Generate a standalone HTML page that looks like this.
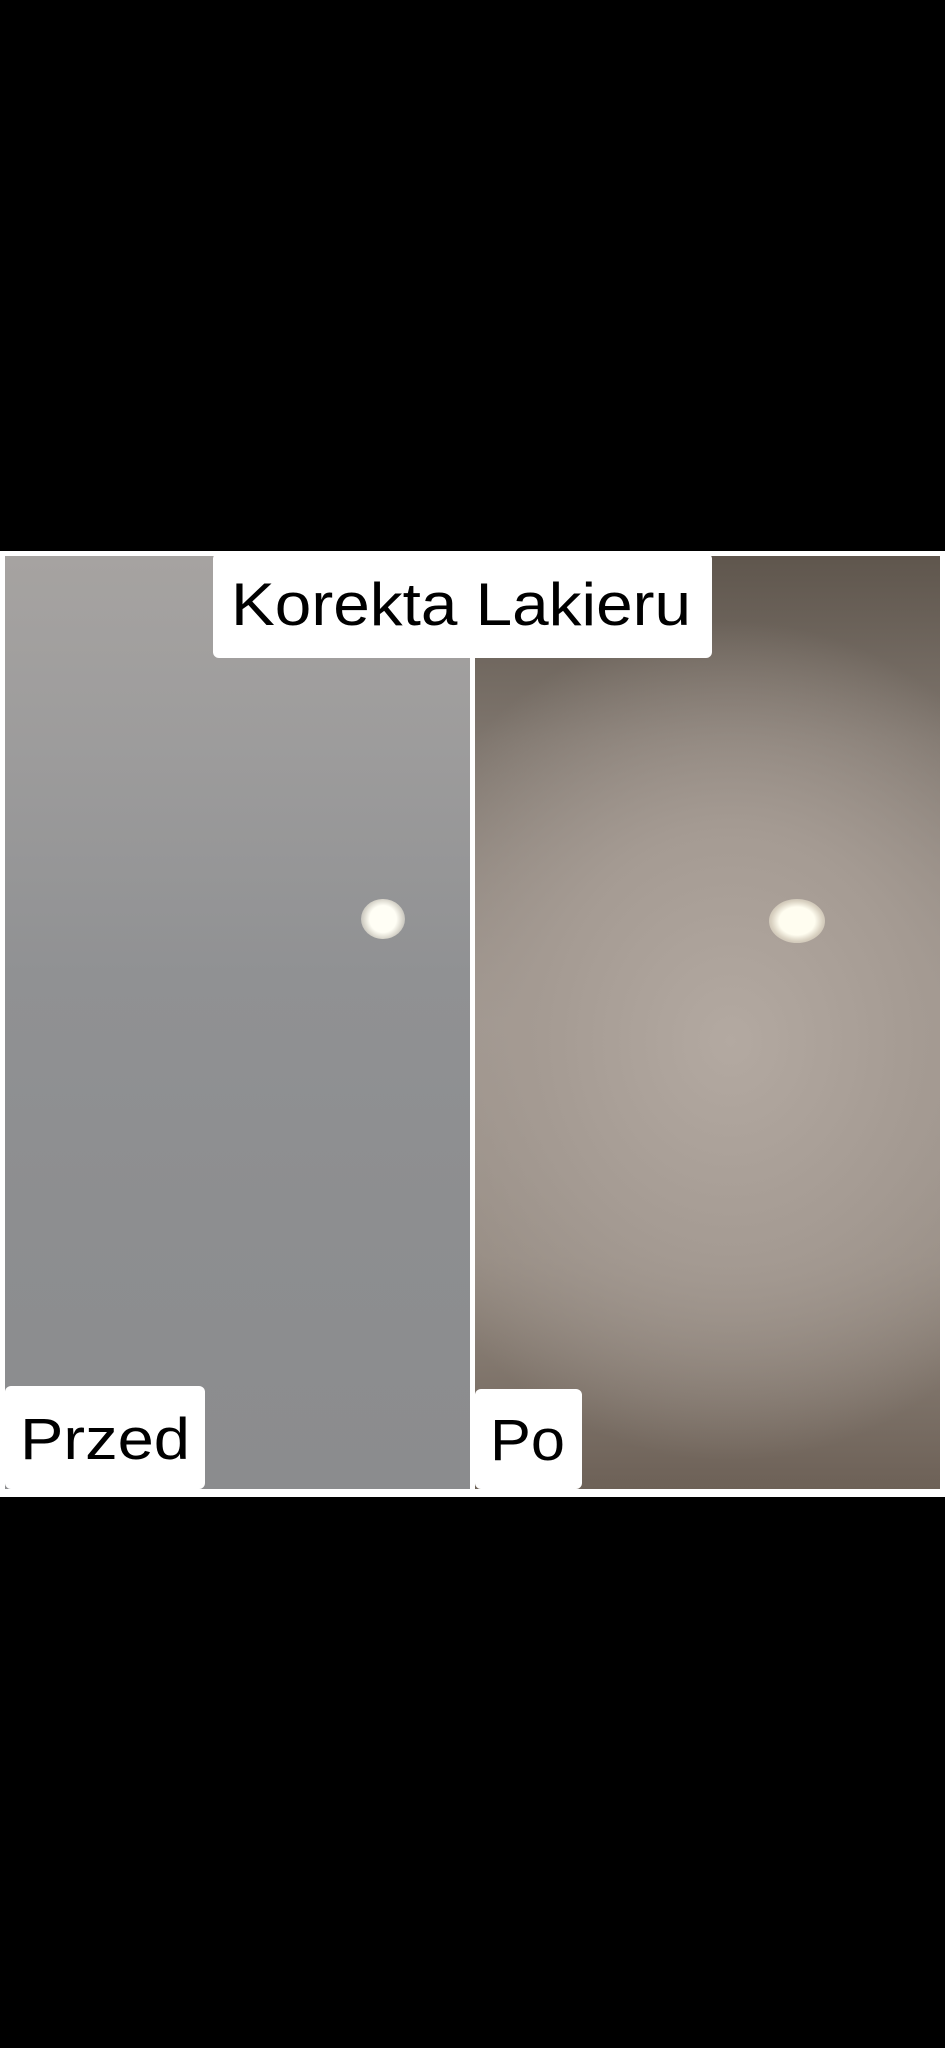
<!DOCTYPE html>
<html><head><meta charset="utf-8"><style>
html,body{margin:0;padding:0;background:#000;}
body{width:945px;height:2048px;position:relative;overflow:hidden;font-family:"Liberation Sans",sans-serif;}
.abs{position:absolute;}
</style></head><body>
<div class="abs" style="left:0;top:551px;width:945px;height:946px;background:#fff;"></div>
<div class="abs" style="left:5px;top:556px;width:465px;height:933px;overflow:hidden;background:linear-gradient(180deg,#a6a3a1 0%,#9d9c9c 20%,#909193 45%,#8d8e90 70%,#8b8c8e 100%);">
  <div class="abs" style="left:356px;top:343px;width:44px;height:40px;border-radius:50%;background:radial-gradient(circle,#fffef5 45%,#d9d6cc 65%,rgba(160,160,160,0) 100%);"></div>
</div>
<div class="abs" style="left:475px;top:556px;width:465px;height:933px;overflow:hidden;background:radial-gradient(ellipse 80% 45% at 55% 52%,#b3a9a1 0%,#a59b93 50%,rgba(120,110,100,0) 100%),linear-gradient(180deg,#5f564d 0%,#7f766e 20%,#9e958e 50%,#948a81 75%,#6d6157 100%);">
  <div class="abs" style="left:294px;top:343px;width:56px;height:44px;border-radius:50%;background:radial-gradient(ellipse,#fffdf0 45%,#d8d0c0 65%,rgba(160,150,140,0) 100%);"></div>
</div>
<div class="abs" style="left:213px;top:553px;width:499px;height:105px;background:#fff;border-radius:6px;">
  <svg width="499" height="105"><text x="18" y="72" font-family="Liberation Sans, sans-serif" font-size="60" textLength="460" lengthAdjust="spacingAndGlyphs" fill="#000">Korekta Lakieru</text></svg>
</div>
<div class="abs" style="left:5px;top:1386px;width:200px;height:103px;background:#fff;border-radius:6px;">
  <svg width="200" height="103"><text x="15" y="73" font-family="Liberation Sans, sans-serif" font-size="58" textLength="170" lengthAdjust="spacingAndGlyphs" fill="#000">Przed</text></svg>
</div>
<div class="abs" style="left:475px;top:1389px;width:107px;height:100px;background:#fff;border-radius:6px;">
  <svg width="107" height="100"><text x="15" y="71" font-family="Liberation Sans, sans-serif" font-size="58" textLength="75" lengthAdjust="spacingAndGlyphs" fill="#000">Po</text></svg>
</div>
</body></html>
